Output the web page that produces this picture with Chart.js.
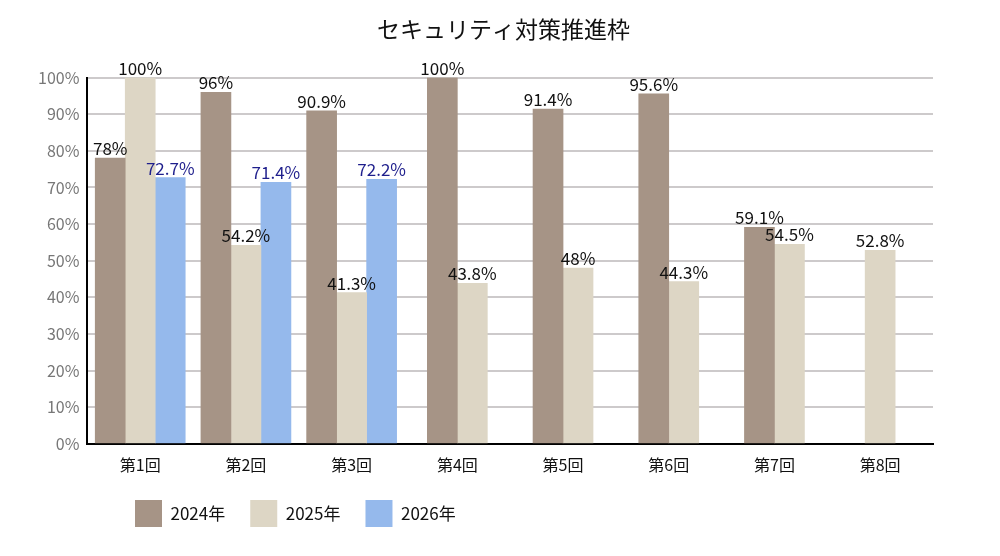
<!DOCTYPE html>
<html>
<head>
<meta charset="utf-8">
<script src="https://cdn.jsdelivr.net/npm/chart.js@4"></script>
<style>
  html, body { margin: 0; padding: 0; background: #fff; }
  #wrap { width: 1000px; height: 556px; }
</style>
</head>
<body>
<div id="wrap"><canvas id="chart" width="1000" height="556"></canvas></div>
<script>
(function () {
    // data
    const categories = ['第1回', '第2回', '第3回', '第4回', '第5回', '第6回', '第7回', '第8回'];
    const seriesNames = ['2024年', '2025年', '2026年'];
    const values2024 = [78, 96, 90.9, 100, 91.4, 95.6, 59.1, null];
    const values2025 = [100, 54.2, 41.3, 43.8, 48, 44.3, 54.5, 52.8];
    const values2026 = [72.7, 71.4, 72.2, null, null, null, null, null];

    const font = "'Noto Sans CJK JP', 'Noto Sans', sans-serif";
    const colors = ['#a69486', '#ddd6c5', '#95b9ec'];
    const labelColors = ['#111111', '#111111', '#1e1e8c'];

    // value labels on top of bars
    let valueLabels = {
        id: 'valueLabels',
        afterDatasetsDraw(chart) {
            let ctx = chart.ctx;
            ctx.save();
            ctx.font = '17px ' + font;
            ctx.textAlign = 'center';
            ctx.textBaseline = 'bottom';
            chart.data.datasets.forEach(function (ds, i) {
                let meta = chart.getDatasetMeta(i);
                meta.data.forEach(function (bar, j) {
                    let v = ds.data[j];
                    if (v === null || v === undefined) return;
                    ctx.fillStyle = labelColors[i];
                    ctx.fillText(v + '%', bar.x, bar.y - 1);
                });
            });
            ctx.restore();
        }
    };

    // move legend and title a little, like in the original
    let boxShift = {
        id: 'boxShift',
        afterLayout(chart) {
            chart.legend.left = 110;
            chart.legend.top -= 4;
            chart.legend.bottom -= 4;
            chart.titleBlock.left += 44;
        }
    };

    new Chart(document.getElementById('chart'), {
        type: 'bar',
        data: {
            labels: categories,
            datasets: [
                { label: seriesNames[0], data: values2024, backgroundColor: colors[0] },
                { label: seriesNames[1], data: values2025, backgroundColor: colors[1] },
                { label: seriesNames[2], data: values2026, backgroundColor: colors[2] }
            ]
        },
        options: {
            responsive: false,
            animation: false,
            devicePixelRatio: 1,
            skipNull: true,
            barThickness: 30,
            layout: { padding: { left: 30, right: 67, top: 0, bottom: 15 } },
            plugins: {
                title: {
                    display: true,
                    text: 'セキュリティ対策推進枠',
                    color: '#111',
                    font: { family: font, size: 23, weight: 'normal' },
                    padding: { top: 15, bottom: 35 }
                },
                legend: {
                    position: 'bottom',
                    align: 'start',
                    labels: {
                        boxWidth: 27,
                        boxHeight: 27,
                        padding: 25,
                        color: '#111',
                        font: { family: font, size: 17 }
                    }
                },
                tooltip: { enabled: false }
            },
            scales: {
                x: {
                    grid: { display: false },
                    border: { display: true, color: '#000', width: 2 },
                    ticks: { color: '#111', font: { family: font, size: 16 }, padding: 4 }
                },
                y: {
                    min: 0,
                    max: 100,
                    grid: { color: '#cdcacb', lineWidth: 2, drawTicks: false },
                    border: { display: true, color: '#000', width: 2 },
                    ticks: {
                        stepSize: 10,
                        color: '#777',
                        padding: 8,
                        font: { family: font, size: 16 },
                        callback: function (v) { return v + '%'; }
                    }
                }
            }
        },
        plugins: [valueLabels, boxShift]
    });
})();
</script>
</body>
</html>
